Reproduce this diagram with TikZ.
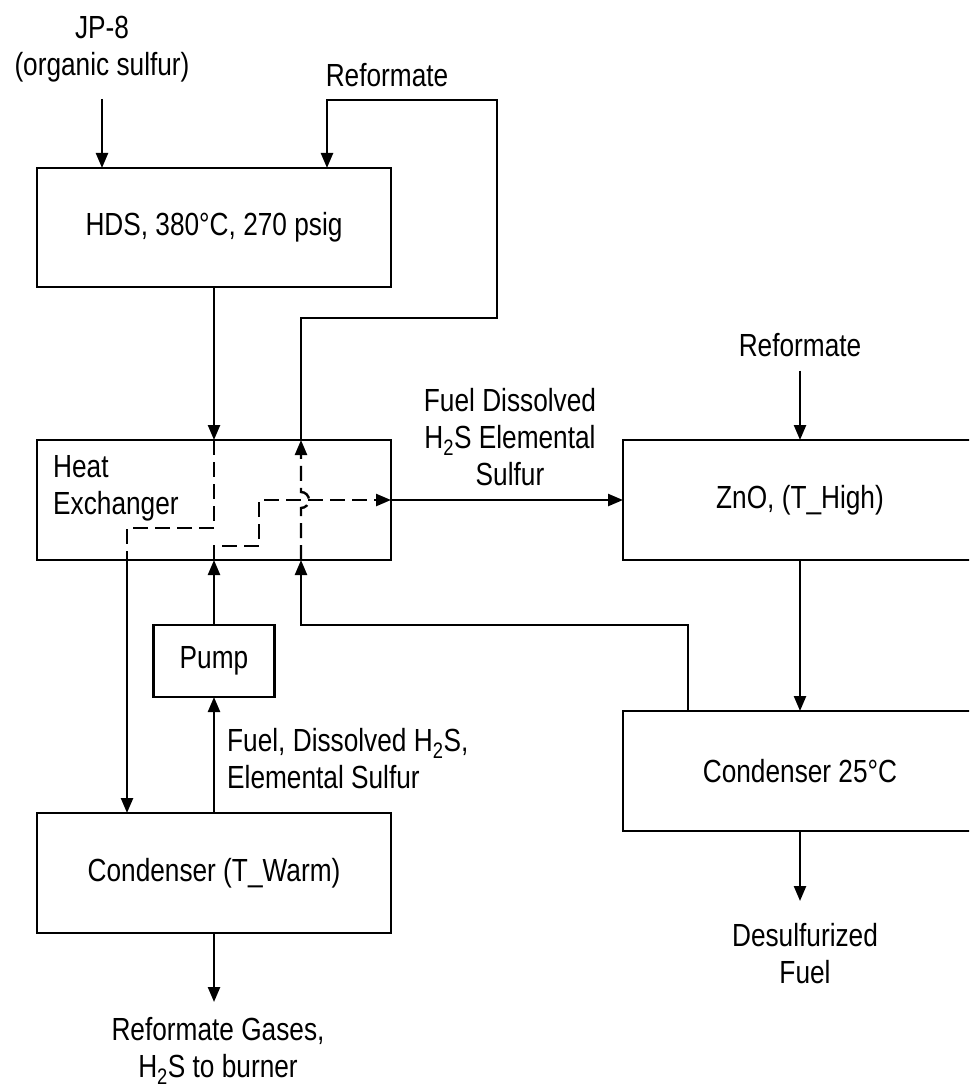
\documentclass[tikz,border=0pt]{standalone}
\usepackage{fontspec}
\setmainfont{Liberation Sans}[FakeStretch=0.82]
\usetikzlibrary{arrows.meta,positioning,calc}

\begin{document}
\begin{tikzpicture}[x=1pt,y=-1pt,node distance=65pt,font=\fontsize{32}{37}\selectfont,box/.style={draw,line width=2.8pt,outer sep=0pt,inner sep=0pt,minimum width=354pt,minimum height=120pt},pumpbox/.style={box,minimum width=121pt,minimum height=72pt},lbl/.style={inner sep=0pt,align=center},arr/.style={-{Triangle[length=15pt,width=12pt]},line width=2.4pt},flow/.style={line width=2.4pt,dash pattern=on 15pt off 7pt}]
\useasboundingbox (0,0) rectangle (969,1091);
\clip (0,0) rectangle (969,1091);
\node[box,minimum height=119pt] (hds) at (214,227.5) {HDS, 380°C, 270 psig};
\node[box,below=153pt of hds] (hx) {};
\node[lbl,align=left,anchor=north west] (hxname) at ([shift={(16,15)}]hx.north west) {Heat\\Exchanger};
\node[pumpbox,below=of hx] (pump) {Pump};
\node[box,below=116pt of pump] (cdw) {Condenser (T\_Warm)};
\node[box,right=232pt of hx] (zno) {ZnO, (T\_High)};
\node[box,below=151pt of zno] (cd25) {Condenser 25°C};
% stream labels
\node[lbl,anchor=north] (jp8) at (102,15.5) {JP-8\\(organic sulfur)};
\node[lbl,anchor=base] (ref1) at (387,86.5) {Reformate};
\node[lbl,anchor=base] (ref2) at (800,356.5) {Reformate};
\node[lbl,anchor=north] (mix) at (510,388.5) {Fuel Dissolved\\H\textsubscript{2}S Elemental\\Sulfur};
\node[lbl,align=left,anchor=north west] (liq) at (227,728.5) {Fuel, Dissolved H\textsubscript{2}S,\\Elemental Sulfur};
\node[lbl,anchor=north] (gas) at (218,1017) {Reformate Gases,\\H\textsubscript{2}S to burner};
\node[lbl,anchor=north] (prod) at (805,923.5) {Desulfurized\\Fuel};
% connectors
\draw[arr,shorten <=17pt](jp8)--(jp8 |- hds.north);\draw[arr](hds)--(hx);\draw[flow](hx.north)--(214,528)-|(127,560);\draw[arr]([xshift=-87pt]hx.south)--([xshift=-87pt]cdw.north);
\draw[arr](cdw)--(pump);\draw[arr](pump)--(hx);\draw[arr,flow](hx.south)--(214,546)-|(259,500)--(hx.east);\draw[arr](hx)--(zno);
\draw[arr,shorten <=13.5pt](ref2)--(zno);\draw[arr](zno)--(cd25);\draw[arr,shorten >=22.5pt](cd25)--(cd25 |- prod.north);\draw[arr,shorten >=15pt](cdw)--(cdw |- gas.north);
\draw[arr]([xshift=-112pt]cd25.north)|-(301,625)--([xshift=87pt]hx.south);\draw[arr,flow]([xshift=87pt]hx.south)--(301,508) arc[start angle=-90,end angle=90,radius=8pt]--([xshift=87pt]hx.north);
\draw[arr]([xshift=87pt]hx.north)|-(497,318)|-(327,100)--([xshift=113pt]hds.north);
\end{tikzpicture}
\end{document}
